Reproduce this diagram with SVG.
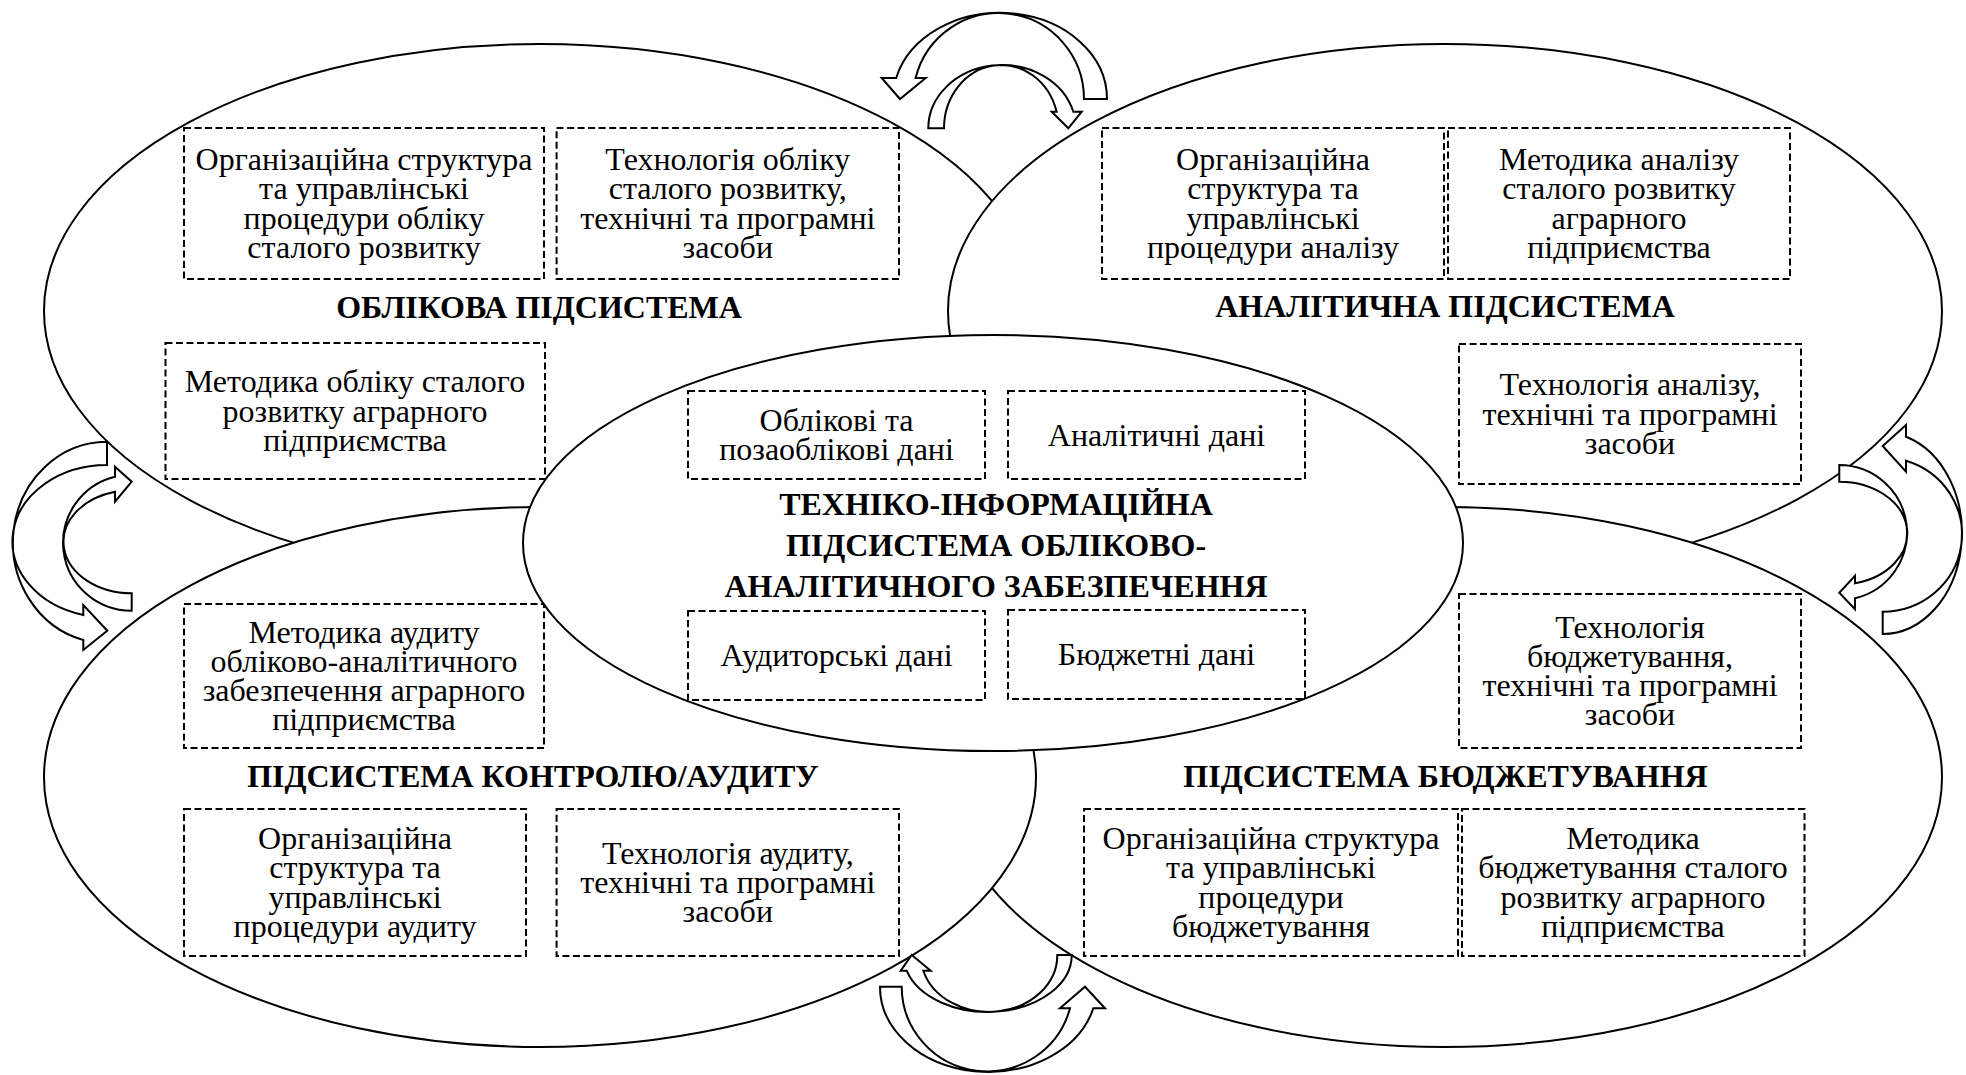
<svg xmlns="http://www.w3.org/2000/svg" width="1966" height="1075" viewBox="0 0 1966 1075">
<style>
.e{fill:#fff;stroke:#000;stroke-width:2}
.b{fill:none;stroke:#000;stroke-width:2;stroke-dasharray:7 3.5}
.t{font-family:"Liberation Serif","Times New Roman",serif;font-size:32px;text-anchor:middle;fill:#000}
.h{font-weight:bold}
.a{fill:#fff;stroke:#000;stroke-width:2;stroke-linejoin:miter}
</style>
<rect width="1966" height="1075" fill="#fff"/>
<g id="accounting">
<ellipse class="e" cx="540" cy="311" rx="496" ry="267"/>
<rect class="b" x="184" y="128" width="360" height="151"/>
<text class="t" x="364" y="170">Організаційна структура</text>
<text class="t" x="364" y="199.3">та управлінські</text>
<text class="t" x="364" y="228.6">процедури обліку</text>
<text class="t" x="364" y="257.9">сталого розвитку</text>
<rect class="b" x="556.6" y="128" width="342.4" height="151"/>
<text class="t" x="727.8" y="170">Технологія обліку</text>
<text class="t" x="727.8" y="199.3">сталого розвитку,</text>
<text class="t" x="727.8" y="228.6">технічні та програмні</text>
<text class="t" x="727.8" y="257.9">засоби</text>
<text class="t h" x="539" y="318">ОБЛІКОВА ПІДСИСТЕМА</text>
<rect class="b" x="165.5" y="343" width="379.5" height="136"/>
<text class="t" x="355" y="392.2">Методика обліку сталого</text>
<text class="t" x="355" y="421.5">розвитку аграрного</text>
<text class="t" x="355" y="450.8">підприємства</text>
</g>
<g id="analytical">
<ellipse class="e" cx="1445" cy="311" rx="497" ry="267"/>
<rect class="b" x="1102" y="128" width="342" height="151"/>
<text class="t" x="1273" y="170">Організаційна</text>
<text class="t" x="1273" y="199.3">структура та</text>
<text class="t" x="1273" y="228.6">управлінські</text>
<text class="t" x="1273" y="257.9">процедури аналізу</text>
<rect class="b" x="1448" y="128" width="342" height="151"/>
<text class="t" x="1619" y="170">Методика аналізу</text>
<text class="t" x="1619" y="199.3">сталого розвитку</text>
<text class="t" x="1619" y="228.6">аграрного</text>
<text class="t" x="1619" y="257.9">підприємства</text>
<text class="t h" x="1445" y="317">АНАЛІТИЧНА ПІДСИСТЕМА</text>
<rect class="b" x="1459" y="344" width="342" height="140"/>
<text class="t" x="1630" y="395.2">Технологія аналізу,</text>
<text class="t" x="1630" y="424.5">технічні та програмні</text>
<text class="t" x="1630" y="453.8">засоби</text>
</g>
<g id="budgeting">
<ellipse class="e" cx="1445" cy="777" rx="497" ry="270"/>
<rect class="b" x="1459" y="594" width="342" height="154"/>
<text class="t" x="1630" y="637.5">Технологія</text>
<text class="t" x="1630" y="666.8">бюджетування,</text>
<text class="t" x="1630" y="696.1">технічні та програмні</text>
<text class="t" x="1630" y="725.4">засоби</text>
<text class="t h" x="1445.5" y="787">ПІДСИСТЕМА БЮДЖЕТУВАННЯ</text>
<rect class="b" x="1084" y="809" width="374" height="147"/>
<text class="t" x="1271" y="849">Організаційна структура</text>
<text class="t" x="1271" y="878.3">та управлінські</text>
<text class="t" x="1271" y="907.6">процедури</text>
<text class="t" x="1271" y="936.9">бюджетування</text>
<rect class="b" x="1462" y="809" width="342.5" height="147"/>
<text class="t" x="1633" y="849">Методика</text>
<text class="t" x="1633" y="878.3">бюджетування сталого</text>
<text class="t" x="1633" y="907.6">розвитку аграрного</text>
<text class="t" x="1633" y="936.9">підприємства</text>
</g>
<g id="audit">
<ellipse class="e" cx="540" cy="777" rx="496" ry="270"/>
<rect class="b" x="184" y="604" width="360" height="144"/>
<text class="t" x="364" y="642.5">Методика аудиту</text>
<text class="t" x="364" y="671.8">обліково-аналітичного</text>
<text class="t" x="364" y="701.1">забезпечення аграрного</text>
<text class="t" x="364" y="730.4">підприємства</text>
<text class="t h" x="533" y="787">ПІДСИСТЕМА КОНТРОЛЮ/АУДИТУ</text>
<rect class="b" x="184" y="809" width="342" height="147"/>
<text class="t" x="355" y="849">Організаційна</text>
<text class="t" x="355" y="878.3">структура та</text>
<text class="t" x="355" y="907.6">управлінські</text>
<text class="t" x="355" y="936.9">процедури аудиту</text>
<rect class="b" x="556.6" y="809" width="342.4" height="147"/>
<text class="t" x="727.8" y="863.7">Технологія аудиту,</text>
<text class="t" x="727.8" y="893">технічні та програмні</text>
<text class="t" x="727.8" y="922.3">засоби</text>
</g>
<g id="center">
<ellipse class="e" cx="993" cy="543" rx="470" ry="208"/>
<rect class="b" x="688" y="391" width="297" height="88"/>
<text class="t" x="836.5" y="430.8">Облікові та</text>
<text class="t" x="836.5" y="460.1">позаоблікові дані</text>
<rect class="b" x="1008" y="391" width="297" height="88"/>
<text class="t" x="1156.5" y="445.5">Аналітичні дані</text>
<text class="t h" x="996" y="515">ТЕХНІКО-ІНФОРМАЦІЙНА</text>
<text class="t h" x="996" y="556">ПІДСИСТЕМА ОБЛІКОВО-</text>
<text class="t h" x="996" y="597">АНАЛІТИЧНОГО ЗАБЕЗПЕЧЕННЯ</text>
<rect class="b" x="688" y="611" width="297" height="89"/>
<text class="t" x="836.5" y="666">Аудиторські дані</text>
<rect class="b" x="1008" y="610" width="297" height="89"/>
<text class="t" x="1156.5" y="665">Бюджетні дані</text>
</g>
<g id="connectors">
<path class="a" d="M1107,99 A107,86 0 0 0 896.2,78 L881.7,78 L900,99 L925.7,78 L915.6,78 A85.5,86 0 0 1 1084,99 Z"/>
<path class="a" d="M928.3,128.3 A73.8,63.3 0 0 1 1073.3,111.7 L1081.7,111.7 L1068.3,128.3 L1051.7,111.7 L1056.6,111.7 A57.3,63.3 0 0 0 944,128.3 Z"/>
<path class="a" d="M1071.7,955 A84.1,56.7 0 0 1 906.7,970.7 L900.7,970.7 L911.7,955 L930.7,970.7 L923.3,970.7 A68.3,56.7 0 0 0 1057.3,955 Z"/>
<path class="a" d="M880,986.7 A108.4,85 0 0 0 1093.3,1008.3 L1105,1008.3 L1085,986.7 L1060,1008.3 L1070,1008.3 A85.6,85 0 0 1 901.7,986.7 Z"/>
<path class="a" d="M107,441.7 A94.3,100.8 0 0 0 83.3,640 L83.3,650 L107.3,630.7 L83.3,605 L83.3,615 A94.3,76.2 0 0 1 107,465 Z"/>
<path class="a" d="M131.7,610.7 A68.4,68 0 0 1 115,476.7 L115,466.7 L131.7,481.7 L115,501.7 L115,491.7 A68.4,51.6 0 0 0 131.7,593.3 Z"/>
<path class="a" d="M1839.3,465 A68,67.6 0 0 1 1855,598.3 L1855,609.3 L1839.3,592.7 L1855,575.7 L1855,583.3 A68,51.5 0 0 0 1839.3,481.7 Z"/>
<path class="a" d="M1882.7,634 A79.3,100.9 0 0 0 1906,436.7 L1906,425 L1882.7,446 L1906,471.7 L1906,460.7 A79.3,77.2 0 0 1 1882.7,611.7 Z"/>
</g>
</svg>
